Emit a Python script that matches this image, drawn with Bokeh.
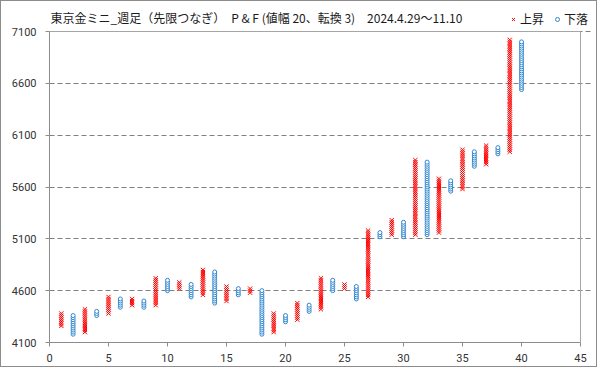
from bokeh.plotting import figure
from bokeh.models import (ColumnDataSource, Label, Legend, LegendItem,
                          FixedTicker, Span)
from bokeh.embed import file_html
from bokeh.resources import INLINE

# ---- data (Point & Figure, box size 20, reversal 3) ----
BOX = 20
col_no = list(range(1, 41))
col_dir = ["X", "O"] * 20
col_low = [4260, 4180, 4200, 4360, 4380, 4440, 4460, 4440, 4460, 4600,
           4620, 4540, 4560, 4480, 4500, 4560, 4580, 4180, 4200, 4300,
           4320, 4400, 4420, 4600, 4620, 4520, 4540, 5120, 5140, 5120,
           5140, 5140, 5160, 5560, 5580, 5800, 5820, 5920, 5940, 6540]
col_high = [4380, 4360, 4420, 4400, 4540, 4520, 4520, 4500, 4720, 4700,
            4680, 4660, 4800, 4780, 4640, 4620, 4620, 4600, 4380, 4360,
            4480, 4460, 4720, 4700, 4660, 4640, 5180, 5160, 5280, 5260,
            5860, 5840, 5680, 5660, 5960, 5940, 6000, 5980, 7020, 7000]
x_ticks = [0, 5, 10, 15, 20, 25, 30, 35, 40, 45]
y_ticks = [4100, 4600, 5100, 5600, 6100, 6600, 7100]
title_text = "東京金ミニ_週足（先限つなぎ）　P & F (値幅 20、転換 3)　2024.4.29～11.10"
up_label = "上昇"
down_label = "下落"

# expand columns into boxes
xs_up, ys_up, xs_dn, ys_dn = [], [], [], []
for c, d, lo, hi in zip(col_no, col_dir, col_low, col_high):
    for v in range(lo, hi + 1, BOX):
        if d == "X":
            xs_up.append(c); ys_up.append(v)
        else:
            xs_dn.append(c); ys_dn.append(v)

src_up = ColumnDataSource(dict(x=xs_up, y=ys_up))
src_dn = ColumnDataSource(dict(x=xs_dn, y=ys_dn))

FONT = "Noto Sans CJK JP"
NUMFONT = "Roboto"
GRAY = "#8c8c8c"
FRAME_GRAY = "#a6a6a6"

x_lo, x_hi = x_ticks[0], x_ticks[-1]
y_lo, y_hi = y_ticks[0], y_ticks[-1]
# extra room above / right of the plot area holds the title and legend
y_top = 7380
x_right = 45.93

p = figure(width=597, height=367, x_range=(x_lo, x_right),
           y_range=(y_lo, y_top),
           output_backend="svg", toolbar_location=None, title=None,
           min_border_left=48, min_border_right=7, min_border_top=1,
           min_border_bottom=26)
p.background_fill_color = "white"
p.border_fill_color = "white"
p.outline_line_color = None
p.styles = {"border": "1px solid #8c8c8c"}

r_up = p.scatter("x", "y", source=src_up, marker="x", size=6,
                 line_color="#FF0000", line_width=1)
r_dn = p.scatter("x", "y", source=src_dn, marker="circle", size=4,
                 line_color="#2F86D0", fill_color="white", line_width=1)

for ax in (p.xaxis[0], p.yaxis[0]):
    ax.axis_line_color = GRAY
    ax.major_tick_line_color = GRAY
    ax.major_tick_out = 4
    ax.major_tick_in = 0
    ax.minor_tick_line_color = None
    ax.major_label_text_font = NUMFONT
    ax.major_label_text_font_size = "11px"
    ax.major_label_text_color = "#333333"
p.xaxis.major_label_standoff = 7
p.yaxis.major_label_standoff = 9
p.xaxis.ticker = FixedTicker(ticks=x_ticks)
p.yaxis.ticker = FixedTicker(ticks=y_ticks)
p.xaxis.bounds = (x_lo, x_hi)
p.yaxis.bounds = (y_lo, y_hi)

# top and right borders of the plot area
p.segment(x0=[x_lo, x_hi], y0=[y_hi, y_lo], x1=[x_hi, x_hi], y1=[y_hi, y_hi],
          line_color=FRAME_GRAY, line_width=1)

p.xgrid.grid_line_color = None
p.ygrid.grid_line_color = "#808080"
p.ygrid.grid_line_dash = "5 3"
p.ygrid.grid_line_width = 1
p.ygrid.bounds = (x_lo, x_hi)

title = Label(x=x_lo, y=y_hi, x_offset=1, y_offset=14, text=title_text,
              text_font=FONT, text_font_size="12px", text_color="#1a1a1a",
              text_baseline="middle", text_align="left")
p.add_layout(title)

legend = Legend(items=[LegendItem(label=up_label, renderers=[r_up]),
                       LegendItem(label=down_label, renderers=[r_dn])],
                orientation="horizontal", location=(459, 315),
                label_text_font=FONT, label_text_font_size="12px",
                label_text_color="#1a1a1a",
                glyph_width=10, glyph_height=12, label_standoff=2,
                label_height=12, spacing=8, padding=0, margin=0,
                border_line_color=None, background_fill_alpha=0)
p.add_layout(legend)

open("out.html", "w").write(file_html(p, INLINE))
